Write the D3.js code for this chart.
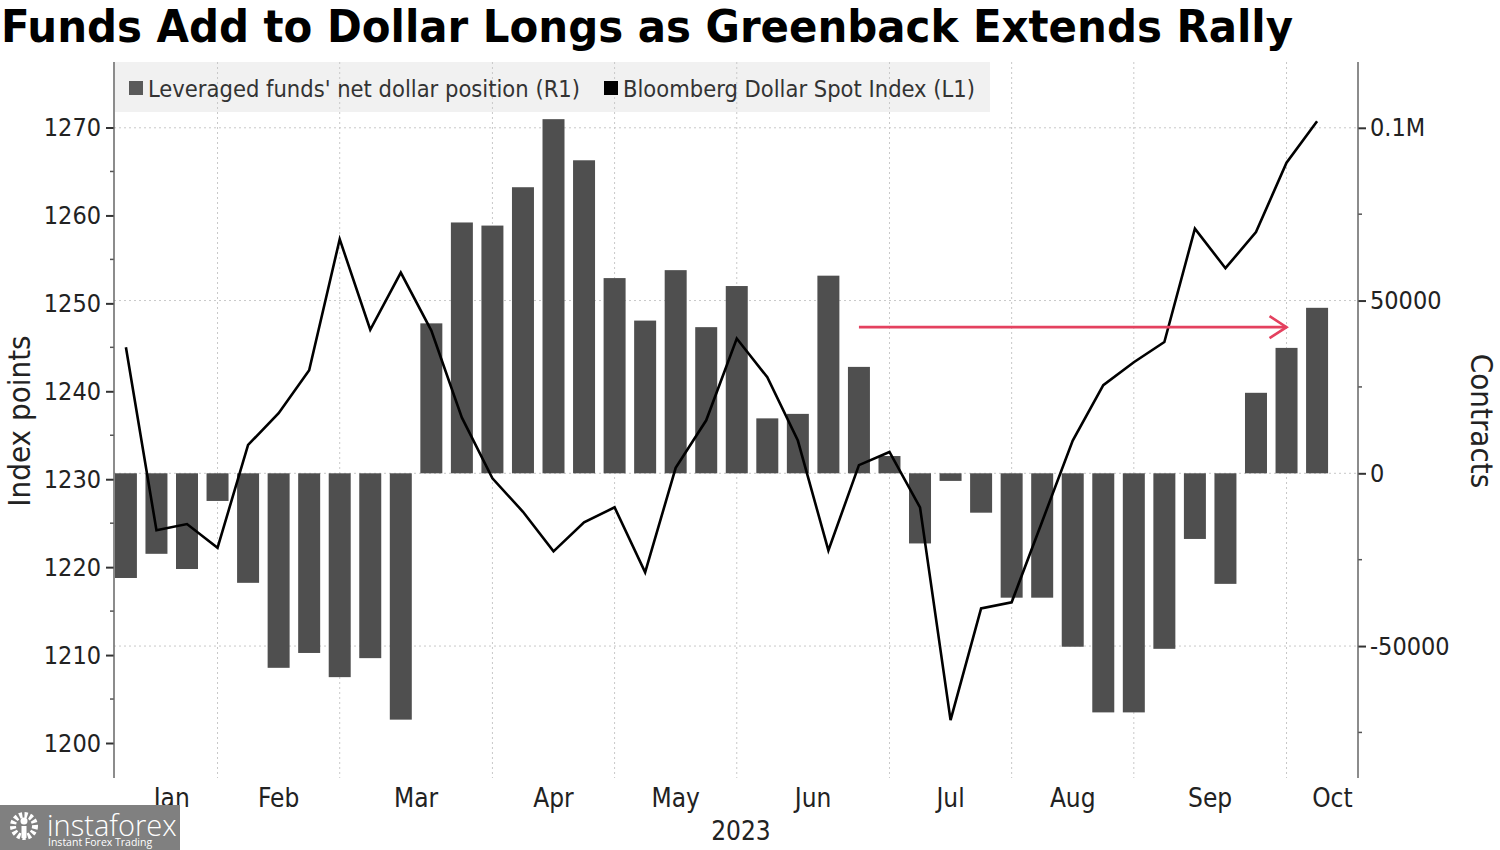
<!DOCTYPE html>
<html>
<head>
<meta charset="utf-8">
<script src="https://cdn.jsdelivr.net/npm/d3@7"></script>
<style>
  html, body { margin: 0; padding: 0; background: #fff; }
  svg { display: block; }
  .cond { font-family: 'DejaVu Sans Condensed', 'DejaVu Sans', sans-serif; font-stretch: condensed; }
</style>
</head>
<body>
<svg id="chart" width="1500" height="850"></svg>
<script>
// ---------------- DATA ----------------
const title = "Funds Add to Dollar Longs as Greenback Extends Rally";
const weekIndex = [0,1,2,3,4,5,6,7,8,9,10,11,12,13,14,15,16,17,18,19,20,21,22,23,24,25,26,27,28,29,30,31,32,33,34,35,36,37,38,39];
// Leveraged funds' net dollar position (contracts, right axis)
const netPosition = [-30300, -23300, -27700, -8000, -31700, -56300, -52000, -59000, -53500, -71300,
  43400, 72600, 71700, 82800, 102500, 90600, 56500, 44200, 58800, 42300,
  54200, 15900, 17200, 57200, 30800, 5000, -20300, -2200, -11400, -36000,
  -36000, -50200, -69200, -69200, -50800, -19000, -32000, 23300, 36300, 47900];
// Bloomberg Dollar Spot Index (left axis)
const dollarIndex = [1245.0, 1224.2, 1224.9, 1222.2, 1233.9, 1237.5, 1242.4, 1257.3, 1247.0, 1253.5,
  1246.9, 1237.0, 1230.1, 1226.3, 1221.8, 1225.1, 1226.8, 1219.4, 1231.3, 1236.7,
  1246.0, 1241.6, 1234.4, 1221.9, 1231.6, 1233.1, 1226.8, 1202.6, 1215.3, 1216.0,
  1225.2, 1234.4, 1240.7, 1243.3, 1245.6, 1258.5, 1254.0, 1258.1, 1266.0, 1270.7];
const monthLabels = ["Jan","Feb","Mar","Apr","May","Jun","Jul","Aug","Sep","Oct"];
const monthLabelPos = [1.5, 5, 9.5, 14, 18, 22.5, 27, 31, 35.5, 39.5];
const monthGridPos = [3, 7, 12, 16, 20, 25, 29, 33, 38];
const yearLabel = "2023";
const leftTicks = [1200, 1210, 1220, 1230, 1240, 1250, 1260, 1270];
const leftMinorTicks = [1205, 1215, 1225, 1235, 1245, 1255, 1265];
const rightTicks = [-50000, 0, 50000, 100000];
const rightTickLabels = ["-50000", "0", "50000", "0.1M"];
const rightMinorTicks = [-75000, -25000, 25000, 75000];
const legendLabels = ["Leveraged funds' net dollar position (R1)", "Bloomberg Dollar Spot Index (L1)"];
const arrowFrom = 24, arrowTo = 38, arrowLevel = 42300;

// ---------------- LAYOUT ----------------
const plotL = 114, plotR = 1358, plotT = 62, plotB = 778;
const barColor = "#4f4f4f";
const svg = d3.select("#chart");

const x = d3.scaleLinear().domain([-0.39, 40.34]).range([plotL, plotR]);
const yL = d3.scaleLinear().domain([1196.02, 1277.45]).range([plotB, plotT]);
const yR = d3.scaleLinear().domain([-88190, 119045]).range([plotB, plotT]);
const step = x(1) - x(0);
const barW = step * 0.72;

// Title
svg.append("text")
  .attr("x", 1).attr("y", 42)
  .attr("font-family", "'DejaVu Sans Condensed', 'DejaVu Sans', sans-serif")
  .attr("font-stretch", "condensed")
  .attr("font-weight", "bold")
  .attr("font-size", 45)
  .attr("fill", "#000")
  .attr("textLength", 1292)
  .attr("lengthAdjust", "spacingAndGlyphs")
  .text(title);

// Legend background
svg.append("rect")
  .attr("x", plotL + 1).attr("y", plotT).attr("width", 990 - plotL - 1).attr("height", 50)
  .attr("fill", "#f1f1f1");

// Horizontal grid (right axis majors)
svg.append("g").selectAll("line").data(rightTicks).join("line")
  .attr("x1", plotL).attr("x2", plotR)
  .attr("y1", d => yR(d)).attr("y2", d => yR(d))
  .attr("stroke", "#c8c8c8").attr("stroke-width", 1).attr("stroke-dasharray", "2,3");

// Vertical grid
svg.append("g").selectAll("line").data(monthGridPos).join("line")
  .attr("x1", d => x(d)).attr("x2", d => x(d))
  .attr("y1", plotT).attr("y2", plotB)
  .attr("stroke", "#c8c8c8").attr("stroke-width", 1).attr("stroke-dasharray", "2,3");

// Legend content
const lg = svg.append("g").attr("class", "cond");
lg.append("rect").attr("x", 129).attr("y", 81).attr("width", 14).attr("height", 14).attr("fill", "#5a5a5a");
lg.append("text").attr("x", 148).attr("y", 97).attr("font-size", 23).attr("fill", "#333")
  .attr("textLength", 432).attr("lengthAdjust", "spacingAndGlyphs").text(legendLabels[0]);
lg.append("rect").attr("x", 604).attr("y", 81).attr("width", 14).attr("height", 14).attr("fill", "#000");
lg.append("text").attr("x", 623).attr("y", 97).attr("font-size", 23).attr("fill", "#333")
  .attr("textLength", 352).attr("lengthAdjust", "spacingAndGlyphs").text(legendLabels[1]);

// Bars
svg.append("g").selectAll("rect").data(weekIndex).join("rect")
  .attr("x", i => x(i) - barW / 2)
  .attr("width", barW)
  .attr("y", i => Math.min(yR(0), yR(netPosition[i])))
  .attr("height", i => Math.abs(yR(netPosition[i]) - yR(0)))
  .attr("fill", barColor);

// Line
const line = d3.line().x(i => x(i)).y(i => yL(dollarIndex[i]));
svg.append("path").datum(weekIndex)
  .attr("d", line).attr("fill", "none")
  .attr("stroke", "#000").attr("stroke-width", 2.6).attr("stroke-linejoin", "miter");

// Red arrow
const ay = yR(arrowLevel);
const ax1 = x(arrowFrom), ax2 = x(arrowTo);
const ag = svg.append("g").attr("stroke", "#e4415f").attr("stroke-width", 2.6).attr("fill", "none");
ag.append("line").attr("x1", ax1).attr("x2", ax2).attr("y1", ay).attr("y2", ay);
ag.append("polyline").attr("points", `${ax2-17},${ay-11} ${ax2},${ay} ${ax2-17},${ay+11}`);

// Left axis
const leftAxis = d3.axisLeft(yL).tickValues(leftTicks).tickSize(8).tickPadding(5).tickFormat(d3.format("d"));
const gL = svg.append("g").attr("transform", `translate(${plotL},0)`).call(leftAxis);
gL.select(".domain").remove();
gL.selectAll(".tick line").attr("stroke", "#333").attr("stroke-width", 2);
gL.selectAll(".tick text").attr("class", "cond").attr("font-size", 25).attr("fill", "#222");
svg.append("g").selectAll("line").data(leftMinorTicks).join("line")
  .attr("x1", plotL - 4).attr("x2", plotL).attr("y1", d => yL(d)).attr("y2", d => yL(d))
  .attr("stroke", "#555").attr("stroke-width", 1.5);
svg.append("line").attr("x1", plotL).attr("x2", plotL).attr("y1", plotT).attr("y2", plotB)
  .attr("stroke", "#666").attr("stroke-width", 1.5);

// Right axis
const rightAxis = d3.axisRight(yR).tickValues(rightTicks).tickSize(8).tickPadding(4)
  .tickFormat((d, i) => rightTickLabels[i]);
const gR = svg.append("g").attr("transform", `translate(${plotR},0)`).call(rightAxis);
gR.select(".domain").remove();
gR.selectAll(".tick line").attr("stroke", "#333").attr("stroke-width", 2);
gR.selectAll(".tick text").attr("class", "cond").attr("font-size", 25).attr("fill", "#222");
svg.append("g").selectAll("line").data(rightMinorTicks).join("line")
  .attr("x1", plotR).attr("x2", plotR + 4).attr("y1", d => yR(d)).attr("y2", d => yR(d))
  .attr("stroke", "#555").attr("stroke-width", 1.5);
svg.append("line").attr("x1", plotR).attr("x2", plotR).attr("y1", plotT).attr("y2", plotB)
  .attr("stroke", "#666").attr("stroke-width", 1.5);

// Month labels
svg.append("g").attr("class", "cond").selectAll("text").data(monthLabels).join("text")
  .attr("x", (d, i) => x(monthLabelPos[i])).attr("y", 807)
  .attr("text-anchor", "middle").attr("font-size", 26).attr("fill", "#222")
  .text(d => d);
svg.append("text").attr("class", "cond").attr("x", 741).attr("y", 840)
  .attr("text-anchor", "middle").attr("font-size", 26).attr("fill", "#222").text(yearLabel);

// Axis titles
svg.append("text").attr("class", "cond")
  .attr("transform", "translate(30,421) rotate(-90)")
  .attr("text-anchor", "middle").attr("font-size", 31).attr("fill", "#222")
  .text("Index points");
svg.append("text").attr("class", "cond")
  .attr("transform", "translate(1471,421) rotate(90)")
  .attr("text-anchor", "middle").attr("font-size", 31).attr("fill", "#222")
  .text("Contracts");

// Watermark
const wm = svg.append("g");
wm.append("rect").attr("x", 0).attr("y", 805).attr("width", 180).attr("height", 45).attr("fill", "#808080");
wm.append("circle").attr("cx", 24).attr("cy", 826).attr("r", 11).attr("fill", "none")
  .attr("stroke", "#fff").attr("stroke-width", 6).attr("stroke-dasharray", "3,2.2");
wm.append("circle").attr("cx", 24).attr("cy", 821).attr("r", 3.5).attr("fill", "#fff");
wm.append("rect").attr("x", 21.5).attr("y", 826).attr("width", 5).attr("height", 12).attr("fill", "#fff");
wm.append("text").attr("x", 47).attr("y", 836).attr("font-family", "'Open Sans', sans-serif")
  .attr("font-size", 29).attr("fill", "#fff").attr("font-weight", 300).text("instaforex");
wm.append("text").attr("x", 48).attr("y", 846).attr("font-family", "'Open Sans', sans-serif")
  .attr("font-size", 10.5).attr("fill", "#fff").text("Instant Forex Trading");
</script>
</body>
</html>
